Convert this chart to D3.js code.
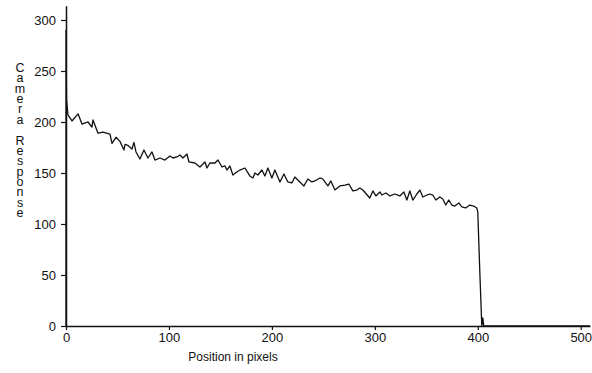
<!DOCTYPE html>
<html><head><meta charset="utf-8">
<script src="https://cdn.jsdelivr.net/npm/d3@7"></script>
<style>body{margin:0;background:#fff}svg{display:block}text{font-family:"Liberation Sans",Arial,sans-serif;fill:#111}</style>
</head><body><svg id="c" width="592" height="373"></svg>
<script>
const positions = [0,0,0.5,1.9,5.8,11.7,15.5,21.4,25.2,26.2,31.1,35.9,42.7,44.7,48.5,52.4,56.3,57.3,60.2,64.1,66,68,71.8,75.7,79.6,83.5,86.4,91.3,96.1,101,103.9,107.8,110.7,113.6,117.5,119.4,125.2,130.1,135,136.9,139.8,144.7,147.6,151.5,154.4,156.3,159.2,162.1,166,168.9,173.8,178.6,181.6,183.5,186.4,190.3,193.2,196.1,200,202.9,207.8,211.7,215.5,219.4,222.3,225.2,231.1,235,238.8,241.7,246.6,249.5,254.4,257.3,261.2,266,270.9,274.8,278.6,282.5,285.4,288.3,295.1,298.1,301,304.9,306.8,310.7,314.6,319.4,324.3,328.2,331.1,334,336.9,340.8,343.7,346.6,350.5,353.4,356.3,359.2,363.1,366,368.9,371.8,374.8,377.7,381.6,384.5,388.3,392.2,396.1,399,400,401.9,403.9,404.9,405.8,450,509];
const response = [0,290,222,207,201,208,198,200,195,202,189,190,188,179,185,181,172.5,178,177,173.5,180,170.6,163.7,172.5,164.7,170.6,162.7,164.7,162.7,166.7,164.7,165.7,167.6,164.7,168.6,160.8,159.8,155.9,160.8,154.9,159.8,159.8,162.7,155.9,156.9,152.9,156.9,148,151,152.9,154.9,147.1,145.1,150,148,152.9,147.1,154.9,145.1,152.9,141.2,149,141.2,140.2,146.1,143.1,137.3,144.1,141.2,142.2,145.1,144.1,137.3,142.2,133.3,137.3,138.2,139.2,132.4,133.3,135.3,133.3,125.5,132.4,127.5,131.4,128.4,130.4,127.5,129.4,127.5,131.4,123.5,132.4,123.5,129.4,133.3,126.5,128.4,129.4,128.4,123.5,126.5,124.5,118.6,123.5,118.6,117.6,120.6,116.7,115.7,118.6,117.6,115.7,111.8,55,0,8,0,0,0];
const xTicks = [0,100,200,300,400,500];
const yTicks = [0,50,100,150,200,250,300];
const yTitle = "Camera Response";
const xTitle = "Position in pixels";

const svg = d3.select("#c");
const x = d3.scaleLinear().domain([0,509]).range([66,590]);
const y = d3.scaleLinear().domain([0,314]).range([326,5.7]);

const gx = svg.append("g").attr("transform","translate(0,326)")
  .call(d3.axisBottom(x).tickValues(xTicks).tickSize(4).tickPadding(3).tickSizeOuter(0));
const gy = svg.append("g").attr("transform","translate(66,0)")
  .call(d3.axisLeft(y).tickValues(yTicks).tickSize(5).tickPadding(5).tickSizeOuter(0));
[gx,gy].forEach(g=>{
  g.select(".domain").attr("stroke","#111").attr("stroke-width",1.5);
  g.selectAll(".tick line").attr("stroke","#111").attr("stroke-width",1.2);
  g.selectAll(".tick text").attr("font-size",13).attr("fill","#111").attr("font-family","Liberation Sans, Arial, sans-serif");
});

const pts = positions.map((p,i)=>[p,response[i]]);
svg.append("path").datum(pts)
  .attr("d", d3.line().x(d=>x(d[0])).y(d=>y(d[1])))
  .attr("fill","none").attr("stroke","#111").attr("stroke-width",1.3).attr("stroke-linejoin","round");

svg.append("text").attr("x",233).attr("y",361).attr("text-anchor","middle").attr("font-size",12).text(xTitle);

const yt = svg.append("text").attr("x",20).attr("text-anchor","middle").attr("font-size",12.5);
yTitle.split("").forEach((ch,i)=>{
  yt.append("tspan").attr("x",20).attr("y",72 + i*10.36).text(ch);
});
</script></body></html>
